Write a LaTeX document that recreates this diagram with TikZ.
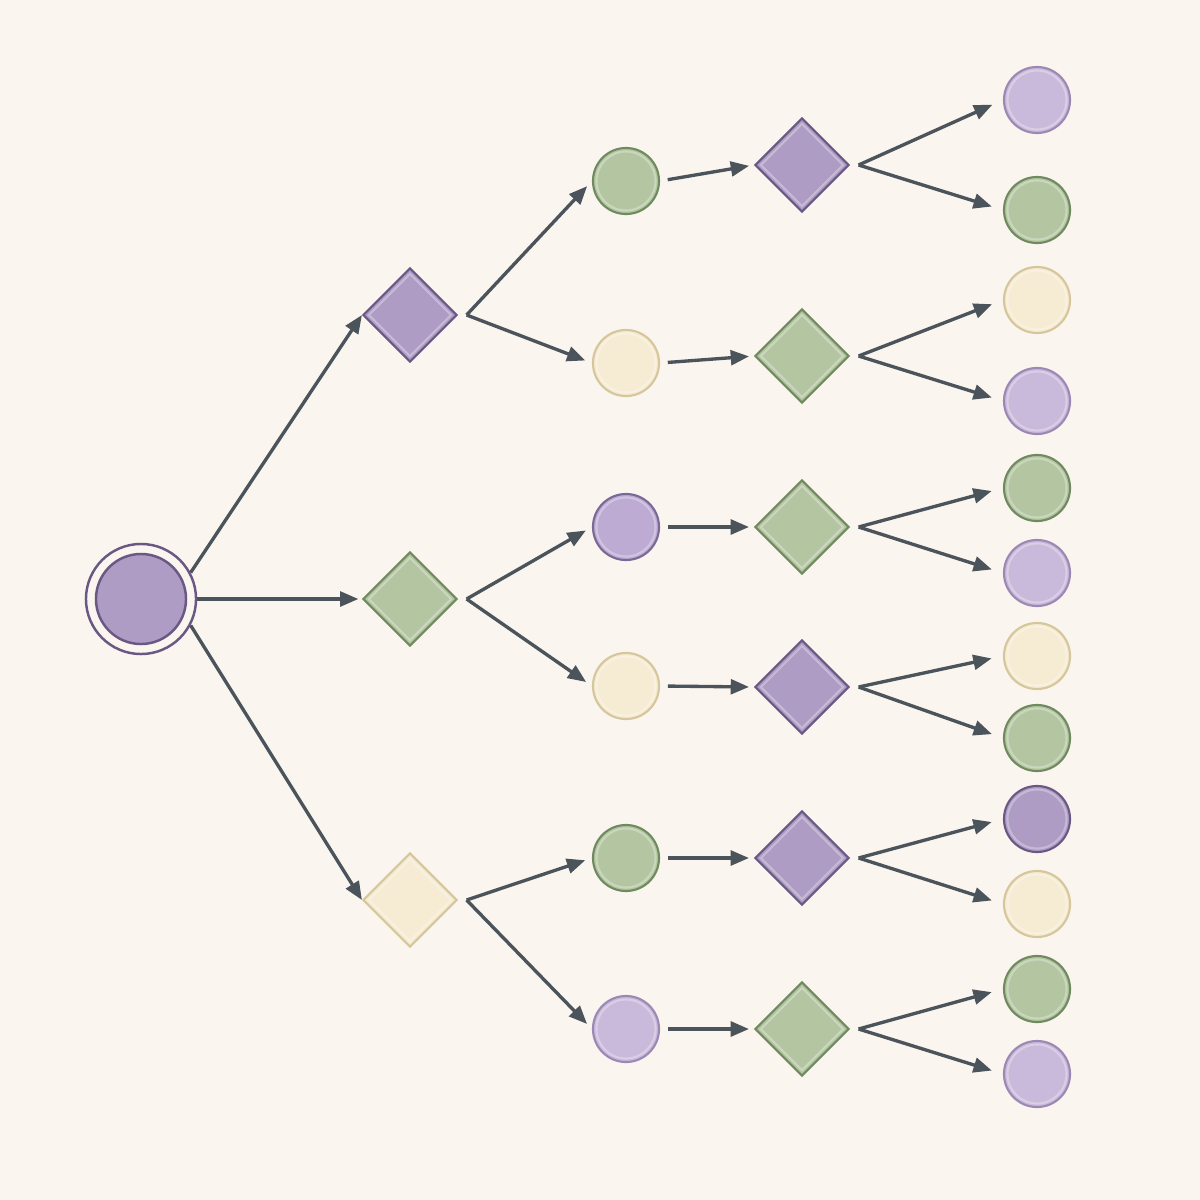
\documentclass[tikz,border=0pt]{standalone}
\usetikzlibrary{shapes.geometric,arrows.meta}
\definecolor{bg}{HTML}{FAF5EE}
\definecolor{arr}{HTML}{4B535B}
\definecolor{pF}{HTML}{AE9CC5}\definecolor{pD}{HTML}{6A5884}
\definecolor{mF}{HTML}{BDABD3}\definecolor{mD}{HTML}{7A6897}
\definecolor{lF}{HTML}{C9B9DA}\definecolor{lD}{HTML}{9B88B5}
\definecolor{gF}{HTML}{B4C5A1}\definecolor{gD}{HTML}{708A60}
\definecolor{cF}{HTML}{F6EBD3}\definecolor{cD}{HTML}{D6C69B}
\tikzset{
  x=0.01cm, y=-0.01cm,
  circ/.style={circle, inner sep=0pt, minimum size=0.66cm, line width=0.6pt,
    path picture={\draw[white,opacity=0.3,line width=0.6pt] (path picture bounding box.center) circle (0.295cm);}},
  dia/.style={diamond, aspect=1, inner sep=0pt, minimum size=0.94cm, line width=0.6pt,
    path picture={\draw[white,opacity=0.3,line width=0.6pt]
      ([xshift=0.41cm]path picture bounding box.center) -- ([yshift=0.41cm]path picture bounding box.center)
      -- ([xshift=-0.41cm]path picture bounding box.center) -- ([yshift=-0.41cm]path picture bounding box.center) -- cycle;}},
  P/.style={fill=pF, draw=pD},
  M/.style={fill=mF, draw=mD},
  L/.style={fill=lF, draw=lD},
  G/.style={fill=gF, draw=gD},
  C/.style={fill=cF, draw=cD},
  conn/.style={draw=arr, line width=0.95pt, -{Triangle[length=5.2pt,width=4.2pt]}},
}
\begin{document}
\begin{tikzpicture}
\fill[bg] (0,0) rectangle (1200,1200);
\useasboundingbox (0,0) rectangle (1200,1200);
% root
\node[circle, minimum size=1.1cm, inner sep=0pt, draw=pD, line width=0.7pt, fill=bg] (root) at (141,599) {};
\fill[pF, draw=pD, line width=0.7pt] (root.center) circle (0.45cm);
% level 1
\node[dia,P] (a1) at (410,315) {};
\node[dia,G] (a2) at (410,599) {};
\node[dia,C] (a3) at (410,900) {};
% level 2
\node[circ,G] (b1) at (626,181) {};
\node[circ,C] (b2) at (626,363) {};
\node[circ,M] (b3) at (626,527) {};
\node[circ,C] (b4) at (626,686) {};
\node[circ,G] (b5) at (626,858) {};
\node[circ,L] (b6) at (626,1029) {};
% level 3
\node[dia,P] (c1) at (802,165) {};
\node[dia,G] (c2) at (802,356) {};
\node[dia,G] (c3) at (802,527) {};
\node[dia,P] (c4) at (802,687) {};
\node[dia,P] (c5) at (802,858) {};
\node[dia,G] (c6) at (802,1029) {};
% level 4
\node[circ,L] (d1) at (1037,100) {};
\node[circ,G] (d2) at (1037,210) {};
\node[circ,C] (d3) at (1037,300) {};
\node[circ,L] (d4) at (1037,401) {};
\node[circ,G] (d5) at (1037,488) {};
\node[circ,L] (d6) at (1037,573) {};
\node[circ,C] (d7) at (1037,656) {};
\node[circ,G] (d8) at (1037,738) {};
\node[circ,P] (d9) at (1037,819) {};
\node[circ,C] (d10) at (1037,904) {};
\node[circ,G] (d11) at (1037,989) {};
\node[circ,L] (d12) at (1037,1074) {};
% fan-out points just right of each diamond
\foreach \n in {a1,a2,a3,c1,c2,c3,c4,c5,c6}
  \coordinate (\n o) at ([xshift=0.085cm]\n.east);
% connectors root -> level 1
\draw[conn] (root.28) -- (a1.west);
\draw[conn, shorten >=1pt] (root.east) -- (a2.west);
\draw[conn] (root.-28) -- (a3.west);
% level 1 -> level 2
\foreach \s/\t in {a1/b1,a1/b2,a2/b3,a2/b4,a3/b5,a3/b6}
  \draw[conn, shorten >=2pt] (\s o) -- (\t.west);
% level 2 -> level 3
\foreach \s/\t in {b1/c1,b2/c2,b3/c3,b4/c4,b5/c5,b6/c6}
  \draw[conn, shorten <=2.2pt, shorten >=1.4pt] (\s.east) -- (\t.west);
% level 3 -> level 4
\foreach \s/\t in {c1/d1,c1/d2,c2/d3,c2/d4,c3/d5,c3/d6,c4/d7,c4/d8,c5/d9,c5/d10,c6/d11,c6/d12}
  \draw[conn, shorten >=3.3pt] (\s o) -- (\t.west);
\end{tikzpicture}
\end{document}
